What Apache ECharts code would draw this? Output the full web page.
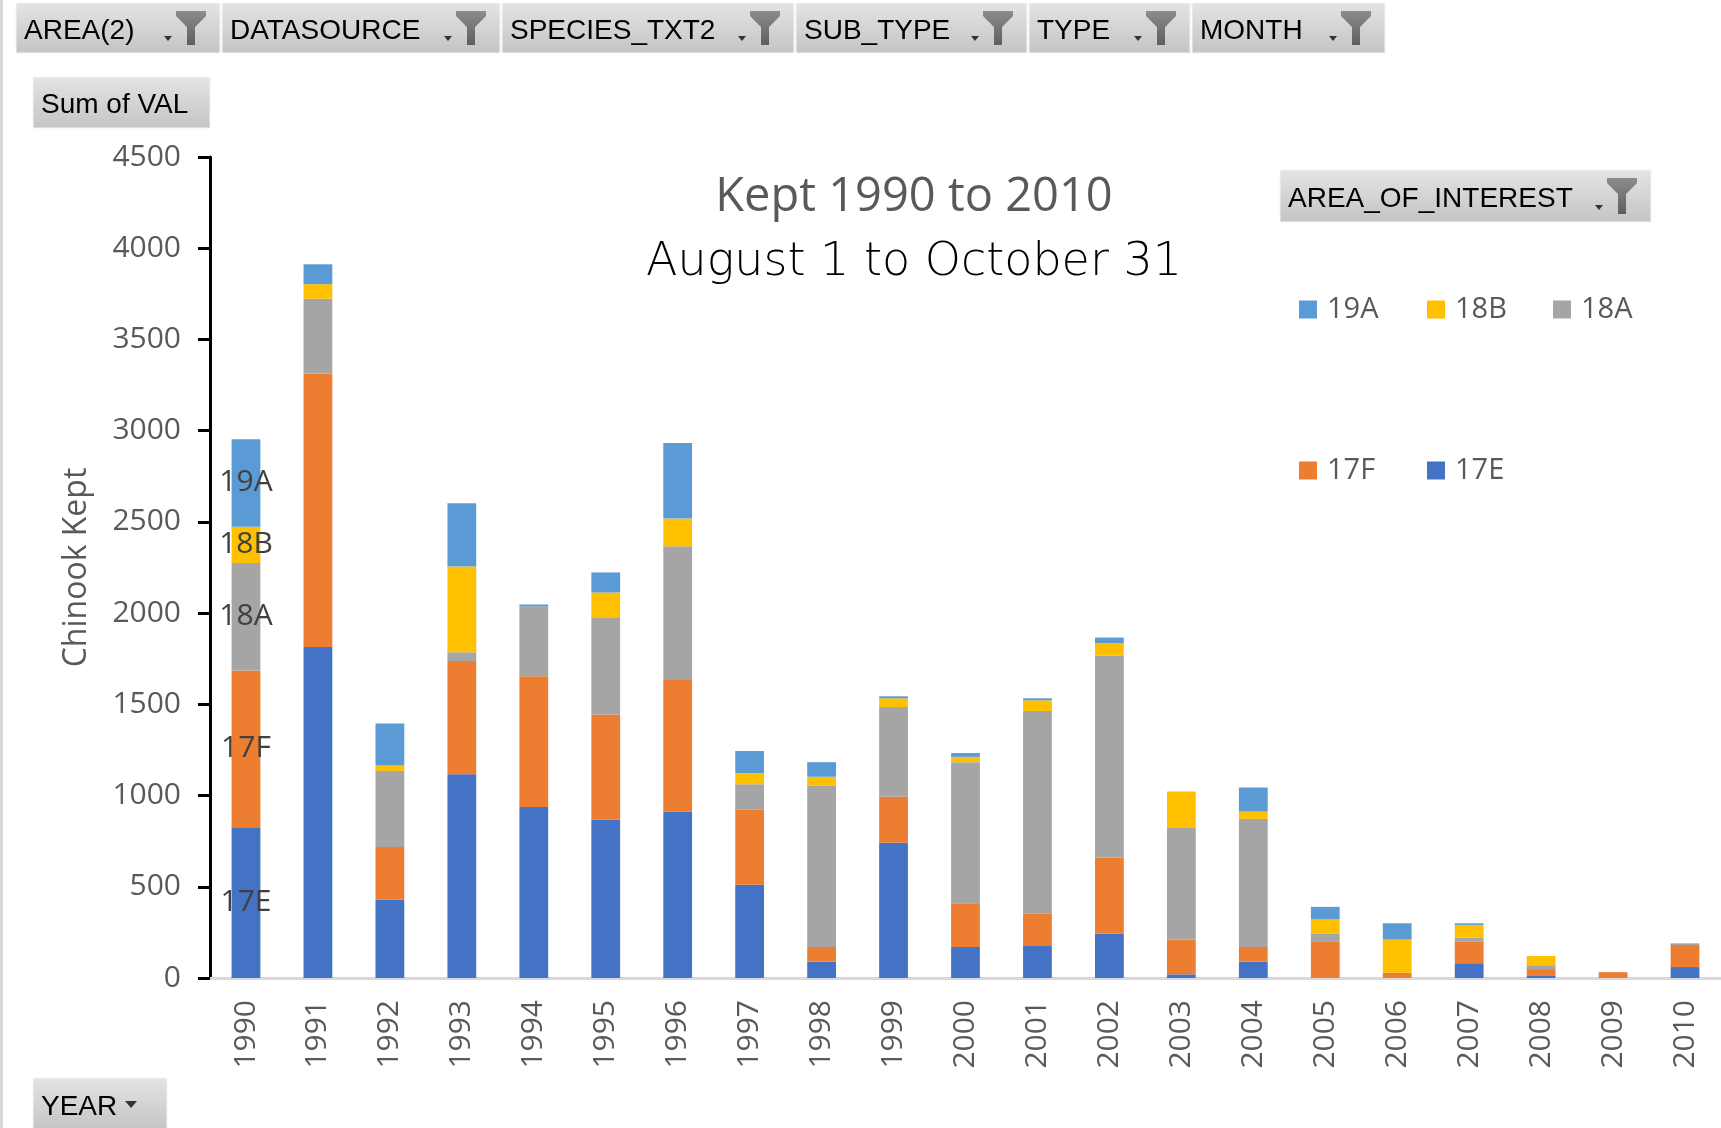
<!DOCTYPE html>
<html>
<head>
<meta charset="utf-8">
<script src="https://cdn.jsdelivr.net/npm/echarts@6/dist/echarts.min.js"></script>
<style>
  html, body { margin: 0; padding: 0; background: #fff; }
  #main { width: 1721px; height: 1128px; }
</style>
</head>
<body>
<div id="main"></div>
<script>
const years = ['1990', '1991', '1992', '1993', '1994', '1995', '1996', '1997', '1998', '1999', '2000',
    '2001', '2002', '2003', '2004', '2005', '2006', '2007', '2008', '2009', '2010']
const area17E = [826, 1814, 429, 1117, 937, 868, 912, 511, 90, 742, 170, 179, 242, 20, 90, 0, 0, 81, 11, 0, 60]
const area17F = [859, 1500, 289, 620, 717, 576, 722, 412, 80, 251, 240, 173, 419, 191, 80, 201, 29, 120, 38, 32, 121]
const area18A = [589, 409, 417, 48, 383, 529, 732, 139, 883, 492, 773, 1111, 1105, 611, 702, 41, 0, 21, 21, 0, 9]
const area18B = [200, 80, 30, 470, 0, 140, 152, 61, 50, 48, 29, 59, 69, 200, 40, 79, 182, 69, 51, 0, 0]
const area19A = [479, 109, 230, 347, 10, 110, 415, 121, 80, 11, 21, 11, 31, 0, 132, 69, 89, 9, 0, 0, 0]
const yTicks = [0, 500, 1000, 1500, 2000, 2500, 3000, 3500, 4000, 4500]

const filterFields = ['AREA(2)', 'DATASOURCE', 'SPECIES_TXT2', 'SUB_TYPE', 'TYPE', 'MONTH']

const axisFont = "'Open Sans', sans-serif"
const btnFont = "'Liberation Sans', Arial, sans-serif"

// pivot field buttons (grey gradient boxes)
function fieldButton(x, y, w, h, text, icon) {
    const children = [{
        type: 'rect',
        shape: { x: 0, y: 0, width: w, height: h },
        style: {
            fill: new echarts.graphic.LinearGradient(0, 0, 0, 1, [
                { offset: 0, color: '#e4e4e4' },
                { offset: 1, color: '#c4c4c4' }
            ]),
            stroke: '#f4f4f4',
            lineWidth: 1
        }
    }, {
        type: 'text',
        style: {
            text: text, x: 8, y: h / 2 + 3,
            verticalAlign: 'middle',
            font: '28px ' + btnFont,
            fill: '#000'
        }
    }]
    if (icon === 'filter') {
        const fx = w - 44
        children.push({
            type: 'polygon',
            shape: { points: [[fx, 8], [fx + 30, 8], [fx + 30, 13], [fx + 19, 24], [fx + 19, h - 8], [fx + 11, h - 8], [fx + 11, 24], [fx, 13]] },
            style: {
                fill: new echarts.graphic.LinearGradient(0, 0, 0, 1, [
                    { offset: 0, color: '#8c8c8c' },
                    { offset: 1, color: '#5e5e5e' }
                ])
            }
        }, {
            type: 'polygon',
            shape: { points: [[fx - 12, h - 17], [fx - 4, h - 17], [fx - 8, h - 12]] },
            style: { fill: '#333' }
        })
    } else if (icon === 'arrow') {
        children.push({
            type: 'polygon',
            shape: { points: [[w - 42, h / 2 - 3], [w - 30, h / 2 - 3], [w - 36, h / 2 + 4]] },
            style: { fill: '#333' }
        })
    }
    return { type: 'group', x: x, y: y, children: children }
}

const btnEdges = [16, 222, 502, 796, 1029, 1192, 1387]
const buttons = filterFields.map((f, i) =>
    fieldButton(btnEdges[i], 3, btnEdges[i + 1] - btnEdges[i] - 2, 50, f, 'filter'))
buttons.push(fieldButton(33, 77, 177, 51, 'Sum of VAL', null))
buttons.push(fieldButton(1280, 170, 371, 52, 'AREA_OF_INTEREST', 'filter'))
buttons.push(fieldButton(33, 1078, 134, 52, 'YEAR', 'arrow'))

function barSeries(name, data, color) {
    return {
        name: name,
        type: 'bar',
        stack: 'kept',
        barCategoryGap: '60%',
        itemStyle: { color: color },
        label: {
            show: true,
            position: 'inside',
            color: '#404040',
            fontSize: 30,
            fontFamily: axisFont,
            formatter: p => (p.dataIndex === 0 ? p.seriesName : '')
        },
        data: data
    }
}

// one legend per item so the columns line up like the excel legend
const legendPos = [['19A', 1294, 290], ['18B', 1422, 290], ['18A', 1548, 290], ['17F', 1294, 451], ['17E', 1422, 451]]
const legends = legendPos.map(l => ({
    data: [l[0]],
    left: l[1],
    top: l[2],
    itemWidth: 18,
    itemHeight: 18,
    icon: 'rect',
    textStyle: { color: '#595959', fontSize: 29, fontFamily: axisFont, padding: [0, 0, 0, 5] },
    selectedMode: false
}))

const option = {
    backgroundColor: '#fff',
    animation: false,
    grid: { left: 210, top: 157, width: 1516, height: 821 },
    legend: legends,
    xAxis: {
        type: 'category',
        data: years,
        axisLine: { lineStyle: { color: '#d9d9d9', width: 3 } },
        axisTick: { show: false },
        axisLabel: { rotate: 90, margin: 22, color: '#595959', fontSize: 30, fontFamily: axisFont }
    },
    yAxis: {
        type: 'value',
        min: yTicks[0],
        max: yTicks[yTicks.length - 1],
        interval: 500,
        name: 'Chinook Kept',
        nameLocation: 'middle',
        nameRotate: 90,
        nameGap: 117,
        nameTextStyle: { color: '#595959', fontSize: 32, fontFamily: axisFont },
        axisLine: { show: true, lineStyle: { color: '#000', width: 3 } },
        axisTick: { show: true, length: 12, lineStyle: { color: '#000', width: 3 } },
        splitLine: { show: false },
        axisLabel: {
            margin: 29, color: '#595959', fontSize: 30, fontFamily: axisFont,
            formatter: v => String(v)
        }
    },
    series: [
        barSeries('17E', area17E, '#4472C4'),
        barSeries('17F', area17F, '#ED7D31'),
        barSeries('18A', area18A, '#A5A5A5'),
        barSeries('18B', area18B, '#FFC000'),
        barSeries('19A', area19A, '#5B9BD5')
    ],
    graphic: [{
        type: 'rect',
        shape: { x: 0, y: 0, width: 3, height: 1128 },
        style: { fill: '#d6d6d6' }
    }, {
        type: 'text',
        style: {
            text: 'Kept 1990 to 2010', x: 914, y: 198,
            align: 'center', verticalAlign: 'middle',
            font: "47px 'Open Sans', sans-serif", fill: '#595959'
        }
    }, {
        type: 'text',
        style: {
            text: 'August 1 to October 31', x: 914, y: 263,
            align: 'center', verticalAlign: 'middle',
            font: "200 46px 'DejaVu Sans', sans-serif", fill: '#000'
        }
    }].concat(buttons)
}

const chart = echarts.init(document.getElementById('main'))
chart.setOption(option)
window.addEventListener('resize', () => {
    chart.resize()
})
</script>
</body>
</html>
